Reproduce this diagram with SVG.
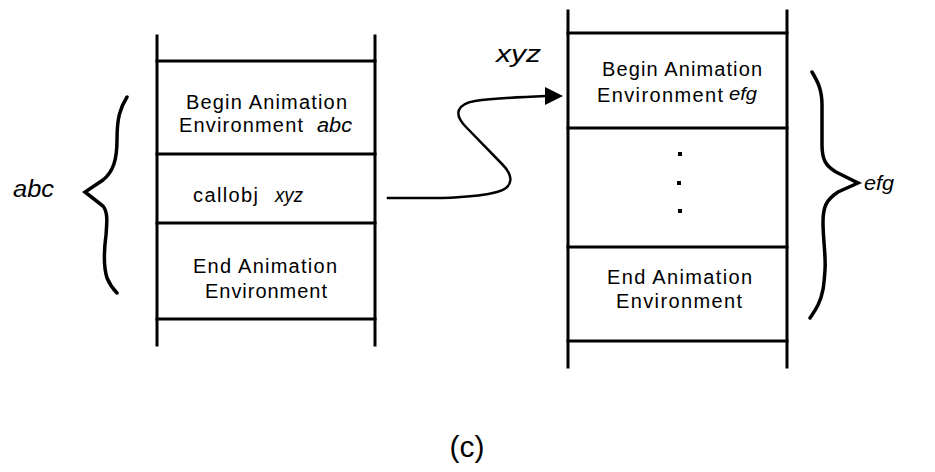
<svg xmlns="http://www.w3.org/2000/svg" width="935" height="472" viewBox="0 0 935 472">
  <style>
    .ln { stroke: #000; stroke-width: 3; fill: none; stroke-linecap: square; }
    .br { stroke: #000; stroke-width: 3.5; fill: none; stroke-linecap: round; stroke-linejoin: miter; }
    .t { font-family: "Liberation Sans", Arial, sans-serif; font-size: 20px; fill: #000; }
    .i { font-style: italic; }
  </style>
  <rect width="935" height="472" fill="#fff"/>

  <!-- left stack: abc -->
  <g id="stack-abc">
    <line class="ln" x1="157" y1="36" x2="157" y2="345"/>
    <line class="ln" x1="375" y1="36" x2="375" y2="345"/>
    <line class="ln" x1="157" y1="61" x2="375" y2="61"/>
    <line class="ln" x1="157" y1="154" x2="375" y2="154"/>
    <line class="ln" x1="157" y1="223" x2="375" y2="223"/>
    <line class="ln" x1="157" y1="319" x2="375" y2="319"/>
  </g>
  <g id="abc-begin">
    <text class="t" x="186" y="109" textLength="161" lengthAdjust="spacing">Begin Animation</text>
    <text class="t" x="179" y="132" textLength="124" lengthAdjust="spacing">Environment</text>
    <text class="t i" x="317" y="132" textLength="35" lengthAdjust="spacingAndGlyphs">abc</text>
  </g>
  <g id="abc-callobj">
    <text class="t" x="193" y="202" textLength="65" lengthAdjust="spacing">callobj</text>
    <text class="t i" x="275" y="202" textLength="28" lengthAdjust="spacingAndGlyphs">xyz</text>
  </g>
  <g id="abc-end">
    <text class="t" x="193" y="273" textLength="144" lengthAdjust="spacing">End Animation</text>
    <text class="t" x="205" y="298" textLength="122" lengthAdjust="spacing">Environment</text>
  </g>
  <g id="brace-abc">
    <path class="br" d="M127,97 C120,108 117,118 117,140 C117,160 113,172 103,180 L85,192 L103,206 C108,212 107,222 106,235 C104,250 103,265 107,278 C110,285 114,290 117,293"/>
    <text class="t i" x="13" y="197" style="font-size:23px" textLength="41" lengthAdjust="spacingAndGlyphs">abc</text>
  </g>

  <!-- right stack: efg -->
  <g id="stack-efg">
    <line class="ln" x1="568" y1="11" x2="568" y2="367"/>
    <line class="ln" x1="787" y1="11" x2="787" y2="367"/>
    <line class="ln" x1="568" y1="33" x2="787" y2="33"/>
    <line class="ln" x1="568" y1="128" x2="787" y2="128"/>
    <line class="ln" x1="568" y1="247" x2="787" y2="247"/>
    <line class="ln" x1="568" y1="341" x2="787" y2="341"/>
  </g>
  <g id="efg-begin">
    <text class="t" x="602" y="76" textLength="160" lengthAdjust="spacing">Begin Animation</text>
    <text class="t" x="597" y="102" textLength="126" lengthAdjust="spacing">Environment</text>
    <text class="t i" x="729" y="100" style="font-size:18px" textLength="28" lengthAdjust="spacingAndGlyphs">efg</text>
  </g>
  <g id="efg-body">
    <rect x="678" y="152" width="4" height="4" fill="#000"/>
    <rect x="677" y="181" width="4" height="4" fill="#000"/>
    <rect x="678" y="209" width="4" height="4" fill="#000"/>
  </g>
  <g id="efg-end">
    <text class="t" x="607" y="284" textLength="145" lengthAdjust="spacing">End Animation</text>
    <text class="t" x="616" y="308" textLength="126" lengthAdjust="spacing">Environment</text>
  </g>
  <g id="brace-efg">
    <path class="br" d="M812,72 C818,82 822,90 822,105 L822,145 C822,160 826,166 836,172 L858,183 L838,192 C826,200 823,207 823,222 C823,240 826,255 825,270 C824,285 823,295 818,305 C815,311 812,315 810,318"/>
    <text class="t i" x="864" y="190" style="font-size:21px" textLength="30" lengthAdjust="spacingAndGlyphs">efg</text>
  </g>

  <!-- call connector -->
  <g id="connectors">
    <path class="ln" style="stroke-width:2.5" d="M388,198 C430,198 470,199 497,192 C515,187 513,175 502,164 L466,127 C453,114 457,104 475,101 C495,98 520,97 546,96"/>
    <polygon points="545,87 563,96 545,105" fill="#000"/>
    <text class="t i" x="496" y="62" style="font-size:23px" textLength="45" lengthAdjust="spacingAndGlyphs">xyz</text>
  </g>

  <text class="t" x="467" y="457" style="font-size:30px" text-anchor="middle">(c)</text>
</svg>
